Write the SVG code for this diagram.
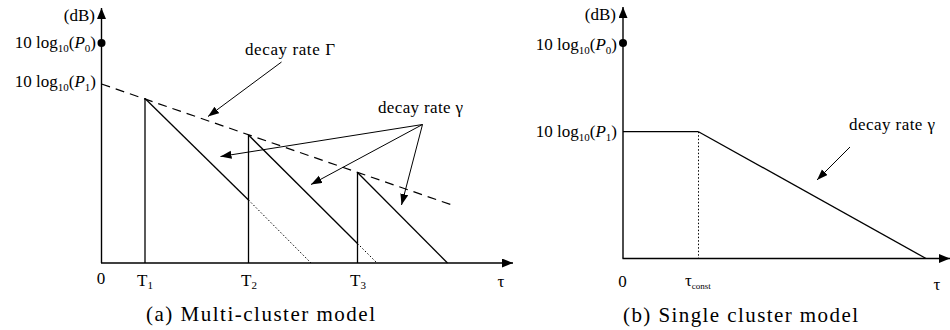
<svg xmlns="http://www.w3.org/2000/svg" width="950" height="330" viewBox="0 0 950 330">
<style>
.ax{stroke:#000;stroke-width:1.4;fill:none}
.ln{stroke:#000;stroke-width:1.3;fill:none}
.ds{stroke:#000;stroke-width:1.2;fill:none;stroke-dasharray:9,6}
.dt{stroke:#000;stroke-width:1;fill:none;stroke-dasharray:1.5,2}
.ar{stroke:#000;stroke-width:1;fill:none}
text{font-family:"Liberation Serif","DejaVu Serif",serif;fill:#000}
.lb{font-size:17px}
.cap{font-size:21px}
.sub{font-size:11px}
</style>
<defs>
<marker id="ah" markerUnits="userSpaceOnUse" markerWidth="12" markerHeight="9" refX="11" refY="4" orient="auto"><path d="M0,0 L11,4 L0,8 z" fill="#000"/></marker>
<marker id="axh" markerUnits="userSpaceOnUse" markerWidth="12" markerHeight="9" refX="11" refY="4.5" orient="auto"><path d="M0,0 L11,4.5 L0,9 z" fill="#000"/></marker>
</defs>

<g id="plot-a" font-family="Liberation Serif, DejaVu Serif, serif">
<g id="axes-a">
<line class="ax" x1="101.5" y1="263" x2="101.5" y2="8" marker-end="url(#axh)"/>
<line class="ax" x1="101" y1="263" x2="513" y2="263" marker-end="url(#axh)"/>
<circle cx="101.5" cy="43" r="4"/>
</g>
<g id="labels-a">
<text class="lb" x="95" y="21" text-anchor="end">(dB)</text>
<text class="lb" x="96" y="48" text-anchor="end">10 log<tspan class="sub" dy="4">10</tspan><tspan dy="-4">(</tspan><tspan font-style="italic">P</tspan><tspan class="sub" dy="4">0</tspan><tspan dy="-4">)</tspan></text>
<text class="lb" x="96" y="87" text-anchor="end">10 log<tspan class="sub" dy="4">10</tspan><tspan dy="-4">(</tspan><tspan font-style="italic">P</tspan><tspan class="sub" dy="4">1</tspan><tspan dy="-4">)</tspan></text>
<text class="lb" x="101" y="284" text-anchor="middle">0</text>
<text class="lb" x="145" y="286" text-anchor="middle">T<tspan class="sub" dy="3">1</tspan></text>
<text class="lb" x="249" y="286" text-anchor="middle">T<tspan class="sub" dy="3">2</tspan></text>
<text class="lb" x="358" y="286" text-anchor="middle">T<tspan class="sub" dy="3">3</tspan></text>
<text class="lb" x="501" y="287" text-anchor="middle">τ</text>
<text class="lb" x="245" y="55" textLength="90" lengthAdjust="spacing">decay rate Γ</text>
<text class="lb" x="378" y="113" textLength="85" lengthAdjust="spacing">decay rate γ</text>
<text class="cap" x="146" y="321" textLength="229" lengthAdjust="spacing">(a) Multi-cluster model</text>
</g>
<g id="curves-a">
<line class="ds" x1="101.5" y1="84" x2="452" y2="205"/>
<line class="ln" x1="145" y1="263" x2="145" y2="98.5"/>
<line class="ln" x1="145" y1="98.5" x2="248.5" y2="200"/>
<line class="dt" x1="248.5" y1="200" x2="311" y2="263"/>
<line class="ln" x1="248.5" y1="263" x2="248.5" y2="135"/>
<line class="ln" x1="248.5" y1="135" x2="357.5" y2="243.5"/>
<line class="dt" x1="357.5" y1="243.5" x2="377" y2="263"/>
<line class="ln" x1="357.5" y1="263" x2="357.5" y2="172.5"/>
<line class="ln" x1="357.5" y1="172.5" x2="447.5" y2="263"/>
</g>
</g>

<g id="connectors">
<line class="ar" x1="281.5" y1="62" x2="208" y2="116.5" marker-end="url(#ah)"/>
<line class="ar" x1="422.5" y1="124.5" x2="220.5" y2="156.5" marker-end="url(#ah)"/>
<line class="ar" x1="422.5" y1="124.5" x2="311" y2="184.5" marker-end="url(#ah)"/>
<line class="ar" x1="422.5" y1="124.5" x2="401.5" y2="205" marker-end="url(#ah)"/>
<line class="ar" x1="850" y1="147" x2="817" y2="180" marker-end="url(#ah)"/>
</g>

<g id="plot-b" font-family="Liberation Serif, DejaVu Serif, serif">
<g id="axes-b">
<line class="ax" x1="623" y1="258.5" x2="623" y2="7" marker-end="url(#axh)"/>
<line class="ax" x1="622.5" y1="258.5" x2="950" y2="258.5" marker-end="url(#axh)"/>
<circle cx="623" cy="43" r="4"/>
</g>
<g id="labels-b">
<text class="lb" x="616" y="20" text-anchor="end">(dB)</text>
<text class="lb" x="617" y="50" text-anchor="end">10 log<tspan class="sub" dy="4">10</tspan><tspan dy="-4">(</tspan><tspan font-style="italic">P</tspan><tspan class="sub" dy="4">0</tspan><tspan dy="-4">)</tspan></text>
<text class="lb" x="617" y="137" text-anchor="end">10 log<tspan class="sub" dy="4">10</tspan><tspan dy="-4">(</tspan><tspan font-style="italic">P</tspan><tspan class="sub" dy="4">1</tspan><tspan dy="-4">)</tspan></text>
<text class="lb" x="622.5" y="287" text-anchor="middle">0</text>
<text class="lb" x="685" y="286">τ<tspan style="font-size:9px" dy="3">const</tspan></text>
<text class="lb" x="937" y="290" text-anchor="middle">τ</text>
<text class="lb" x="849" y="130" textLength="86" lengthAdjust="spacing">decay rate γ</text>
<text class="cap" x="623" y="322" textLength="235" lengthAdjust="spacing">(b) Single cluster model</text>
</g>
<g id="curves-b">
<line class="ln" x1="623" y1="131.7" x2="698.5" y2="131.7"/>
<line class="dt" x1="698.5" y1="131.7" x2="698.5" y2="258"/>
<line class="ln" x1="698.5" y1="131.7" x2="926" y2="258.5"/>
</g>
</g>
</svg>
